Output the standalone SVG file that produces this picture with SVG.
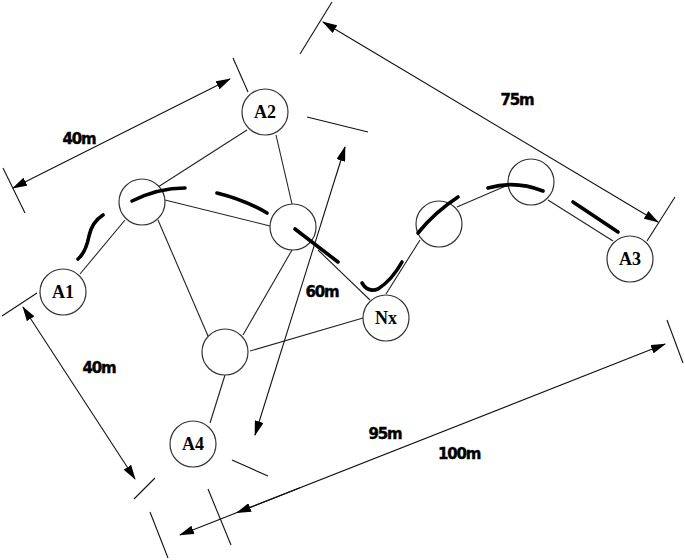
<svg xmlns="http://www.w3.org/2000/svg" width="685" height="560" viewBox="0 0 685 560">
<style>
.thin{stroke:#222;stroke-width:1.1;fill:none}
.dim{stroke:#111;stroke-width:1.1;fill:none}
.thick{stroke:#000;stroke-width:3.6;fill:none;stroke-linecap:round}
.node circle{fill:#fff;stroke:#333;stroke-width:1.2}
.nl{font-family:"Liberation Serif",serif;font-weight:bold;font-size:18px;text-anchor:middle;fill:#000}
.dl{font-family:"DejaVu Sans",sans-serif;font-weight:bold;font-size:15px;text-anchor:middle;fill:#000;letter-spacing:-1.2px;stroke:#000;stroke-width:0.4}
</style>
<defs>
<marker id="ah" markerUnits="userSpaceOnUse" markerWidth="15" markerHeight="9" refX="14" refY="4.5" orient="auto-start-reverse" viewBox="0 0 15 9">
<path d="M0,0 L15,4.5 L0,9 z" fill="#000"/>
</marker>
</defs>
<rect width="685" height="560" fill="#fff"/>
<g id="connectors">
<line class="thin" x1="80" y1="274" x2="125" y2="220"/>
<line class="thin" x1="158" y1="187" x2="247" y2="130"/>
<line class="thin" x1="165" y1="200" x2="270" y2="226"/>
<line class="thin" x1="158" y1="220" x2="208" y2="336"/>
<line class="thin" x1="276" y1="135" x2="292" y2="204"/>
<line class="thin" x1="292" y1="250" x2="243" y2="335"/>
<line class="thin" x1="318" y1="250" x2="370" y2="300"/>
<line class="thin" x1="250" y1="351" x2="363" y2="318"/>
<line class="thin" x1="225" y1="375" x2="210" y2="423"/>
<line class="thin" x1="386" y1="294" x2="420" y2="240"/>
<line class="thin" x1="457" y1="207" x2="508" y2="185"/>
<line class="thin" x1="548" y1="200" x2="613" y2="241"/>
</g>
<g id="nodes">
<g id="A2" class="node"><circle cx="265" cy="112" r="23"/><text class="nl" x="265" y="118">A2</text></g>
<g id="B" class="node"><circle cx="142" cy="202" r="23"/></g>
<g id="C" class="node"><circle cx="293" cy="227" r="23"/></g>
<g id="A1" class="node"><circle cx="63" cy="292" r="23"/><text class="nl" x="63" y="298">A1</text></g>
<g id="D" class="node"><circle cx="225" cy="352" r="23"/></g>
<g id="A4" class="node"><circle cx="193" cy="444" r="23"/><text class="nl" x="193" y="450">A4</text></g>
<g id="Nx" class="node"><circle cx="386" cy="318" r="23"/><text class="nl" x="386" y="324">Nx</text></g>
<g id="E" class="node"><circle cx="439" cy="224" r="23"/></g>
<g id="F" class="node"><circle cx="531" cy="182" r="23"/></g>
<g id="A3" class="node"><circle cx="630" cy="259" r="23"/><text class="nl" x="630" y="265">A3</text></g>
</g>
<g id="path">
<path class="thick" d="M103,215 Q92,222 89,236 Q86,252 78,259"/>
<path class="thick" d="M132,201 Q158,188 185,188"/>
<path class="thick" d="M217,193 Q245,200 267,213"/>
<path class="thick" d="M295,229 L338,262"/>
<path class="thick" d="M362,283 Q368,293 378,289 Q392,280 402,262"/>
<path class="thick" d="M418,233 Q435,212 458,197"/>
<path class="thick" d="M488,188 Q515,180 543,191"/>
<path class="thick" d="M573,202 L618,232"/>
</g>
<g id="dimensions">
<line class="dim" x1="13" y1="188" x2="230" y2="79" marker-start="url(#ah)" marker-end="url(#ah)"/>
<line class="dim" x1="323" y1="22" x2="658" y2="222" marker-start="url(#ah)" marker-end="url(#ah)"/>
<line class="dim" x1="345" y1="147" x2="255" y2="435" marker-start="url(#ah)" marker-end="url(#ah)"/>
<line class="dim" x1="23" y1="307" x2="135" y2="479" marker-start="url(#ah)" marker-end="url(#ah)"/>
<line class="dim" x1="180" y1="535" x2="665" y2="344" marker-start="url(#ah)" marker-end="url(#ah)"/>
<line class="dim" x1="300" y1="487.7" x2="237" y2="512.6" marker-end="url(#ah)"/>
<line class="dim" x1="3" y1="168" x2="25" y2="213"/>
<line class="dim" x1="233" y1="58" x2="248" y2="92"/>
<line class="dim" x1="332" y1="2" x2="300" y2="54"/>
<line class="dim" x1="675" y1="197" x2="647" y2="241"/>
<line class="dim" x1="307" y1="117" x2="368" y2="132"/>
<line class="dim" x1="232" y1="460" x2="268" y2="476"/>
<line class="dim" x1="2" y1="316" x2="37" y2="293"/>
<line class="dim" x1="134" y1="499" x2="155" y2="478"/>
<line class="dim" x1="667" y1="320" x2="683" y2="363"/>
<line class="dim" x1="150" y1="512" x2="168" y2="558"/>
<line class="dim" x1="208" y1="489" x2="231" y2="545"/>
<text class="dl" x="79" y="144">40m</text>
<text class="dl" x="517" y="105">75m</text>
<text class="dl" x="322" y="297">60m</text>
<text class="dl" x="99" y="373">40m</text>
<text class="dl" x="385" y="439">95m</text>
<text class="dl" x="459" y="459">100m</text>
</g>
</svg>
